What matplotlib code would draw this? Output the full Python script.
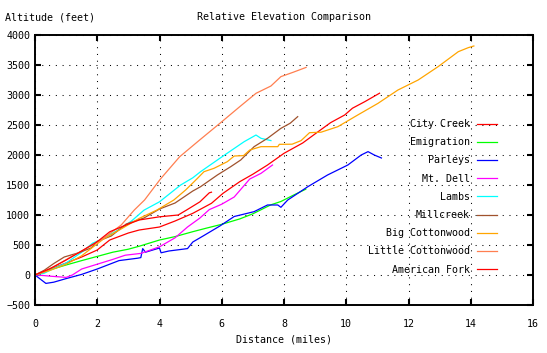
import matplotlib
matplotlib.use("Agg")
import matplotlib.pyplot as plt

# Series (distance in miles, relative altitude in feet)
city_creek_x = [0, 0.5, 1, 1.5, 2, 2.4, 3, 3.35, 4, 4.5, 5.07, 5.67, 6.04, 6.58, 7.0, 7.47, 8.0,
                8.6, 9.1, 9.5, 9.95, 10.2, 10.6, 11.07]
city_creek_y = [0, 100, 200, 300, 417, 583, 700, 750, 800, 900, 1028, 1195, 1361, 1556, 1680, 1833,
                2028, 2200, 2390, 2540, 2667, 2780, 2890, 3030]

emigration_x = [0, 0.5, 1, 1.5, 2, 2.5, 3, 3.35, 4, 4.5, 5.07, 5.5, 6, 6.58, 7, 7.58, 7.9, 8.3, 8.7]
emigration_y = [0, 90, 167, 240, 310, 380, 430, 480, 583, 640, 722, 780, 845, 935, 1020, 1170,
                1225, 1330, 1430]

parleys_x = [0, 0.15, 0.35, 0.6, 1, 1.5, 2, 2.7, 3.3, 3.4, 3.46, 3.55, 4.0, 4.05, 4.3, 4.9, 5.07,
             5.4, 5.95, 6.4, 6.6, 7.04, 7.47, 7.8, 7.9, 8.12, 8.76, 9.4, 10.05, 10.48, 10.7, 10.9,
             11.13]
parleys_y = [0, -60, -140, -120, -60, 10, 100, 240, 280, 290, 440, 380, 450, 370, 400, 440, 550,
             650, 820, 975, 1000, 1056, 1167, 1167, 1128, 1250, 1470, 1667, 1833, 2000, 2056, 2000,
             1950]

mt_dell_x = [0, 0.3, 0.5, 1.0, 1.2, 1.5, 2.0, 2.5, 2.9, 3.4, 4.0, 4.5, 4.9, 5.3, 5.6, 6.0, 6.4,
             6.6, 6.9, 7.26, 7.63]
mt_dell_y = [0, -10, -20, -40, 0, 100, 180, 260, 330, 360, 470, 620, 800, 950, 1090, 1180, 1300,
             1420, 1600, 1694, 1833]

lambs_x = [0, 0.3, 0.6, 1.0, 1.5, 1.85, 2.12, 2.5, 2.77, 3.1, 3.5, 4.0, 4.68, 5.07, 5.32, 5.86,
           6.29, 6.72, 7.1, 7.26, 7.58]
lambs_y = [0, 30, 110, 200, 380, 530, 590, 700, 780, 900, 1080, 1220, 1500, 1620, 1722, 1917,
           2070, 2222, 2333, 2278, 2240]

millcreek_x = [0, 0.3, 0.6, 0.94, 1.4, 1.8, 2.0, 2.45, 2.93, 3.5, 4.0, 4.5, 5.07, 5.32, 5.86, 6.29,
               6.61, 7.04, 7.47, 7.9, 8.2, 8.44]
millcreek_y = [0, 80, 190, 300, 370, 450, 560, 650, 850, 950, 1100, 1200, 1400, 1472, 1667, 1806,
               1917, 2139, 2278, 2444, 2530, 2639]

big_cotton_x = [0, 0.5, 1, 1.5, 1.74, 2.2, 2.71, 3.35, 3.92, 4.46, 4.84, 5.22, 5.43, 5.75, 6.18,
                6.4, 6.7, 6.9, 7.26, 7.8, 7.85, 8.26, 8.55, 8.82, 9.19, 9.73, 10.37, 11.02, 11.66,
                12.31, 12.95, 13.6, 13.92, 14.1]
big_cotton_y = [0, 80, 180, 320, 417, 600, 750, 944, 1083, 1250, 1417, 1611, 1722, 1778, 1889,
                1983, 1990, 2083, 2139, 2139, 2178, 2180, 2240, 2372, 2380, 2472, 2667, 2861, 3083,
                3250, 3472, 3722, 3789, 3817]

little_cotton_x = [0, 0.3, 0.61, 1.26, 1.6, 2.12, 2.77, 3.19, 3.52, 4.03, 4.65, 5.29, 5.94, 6.58,
                   7.1, 7.58, 7.9, 8.3, 8.71]
little_cotton_y = [0, 60, 139, 333, 430, 583, 833, 1083, 1250, 1600, 1972, 2250, 2528, 2806, 3028,
                   3150, 3306, 3380, 3460]

american_fork_x = [0, 0.5, 1, 1.5, 2, 2.4, 3, 3.35, 4, 4.6, 4.86, 5.3, 5.6, 5.67]
american_fork_y = [0, 110, 250, 400, 555, 720, 850, 917, 970, 1000, 1080, 1220, 1370, 1380]

names = ["City Creek", "Emigration", "Parleys", "Mt. Dell", "Lambs", "Millcreek",
         "Big Cottonwood", "Little Cottonwood", "American Fork"]
xs = [city_creek_x, emigration_x, parleys_x, mt_dell_x, lambs_x, millcreek_x,
      big_cotton_x, little_cotton_x, american_fork_x]
ys = [city_creek_y, emigration_y, parleys_y, mt_dell_y, lambs_y, millcreek_y,
      big_cotton_y, little_cotton_y, american_fork_y]
colors = ["#ff0000", "#00ff00", "#0000ff", "#ff00ff", "#00ffff", "#a0522d",
          "#ffa500", "#ff7f50", "#ff0000"]

x_ticks = list(range(0, 17, 2))
y_ticks = list(range(-500, 4001, 500))

font = "DejaVu Sans Mono"
fs = 7.2
plt.rcParams["font.family"] = font
plt.rcParams["font.size"] = fs

W, H = 547, 353
fig = plt.figure(figsize=(W / 100, H / 100), dpi=100)
ax = fig.add_axes([35 / W, (H - 305) / H, 498 / W, 270 / H])

for x, y, c, n in zip(xs, ys, colors, names):
    ax.plot(x, y, color=c, lw=0.9, label=n)

ax.set_xlim(0, 16)
ax.set_ylim(-500, 4000)
ax.set_xticks(x_ticks)
ax.set_yticks(y_ticks)
ax.grid(True, color="black", lw=0.75, linestyle=(0, (1, 5.5)))
ax.tick_params(direction="in", length=4, width=1.5, top=True, right=True,
               labeltop=False, labelright=False, labelsize=fs, colors="black")
ax.tick_params(axis="x", pad=10)
ax.tick_params(axis="y", pad=3.5)
for s in ax.spines.values():
    s.set_linewidth(1.4)

fig.text(284 / W, 1 - 17 / H, "Relative Elevation Comparison", ha="center", va="center")
fig.text(5 / W, 1 - 17 / H, "Altitude (feet)", ha="left", va="center")
fig.text(284 / W, 1 - 340 / H, "Distance (miles)", ha="center", va="center")

ax.legend(loc="upper right", bbox_to_anchor=(497 / W, 1 - 119 / H),
          bbox_transform=fig.transFigure, markerfirst=False, frameon=False,
          borderaxespad=0, borderpad=0, handlelength=2.0, handletextpad=0.7,
          labelspacing=0.82, fontsize=fs)

fig.savefig("out.png", dpi=100)
